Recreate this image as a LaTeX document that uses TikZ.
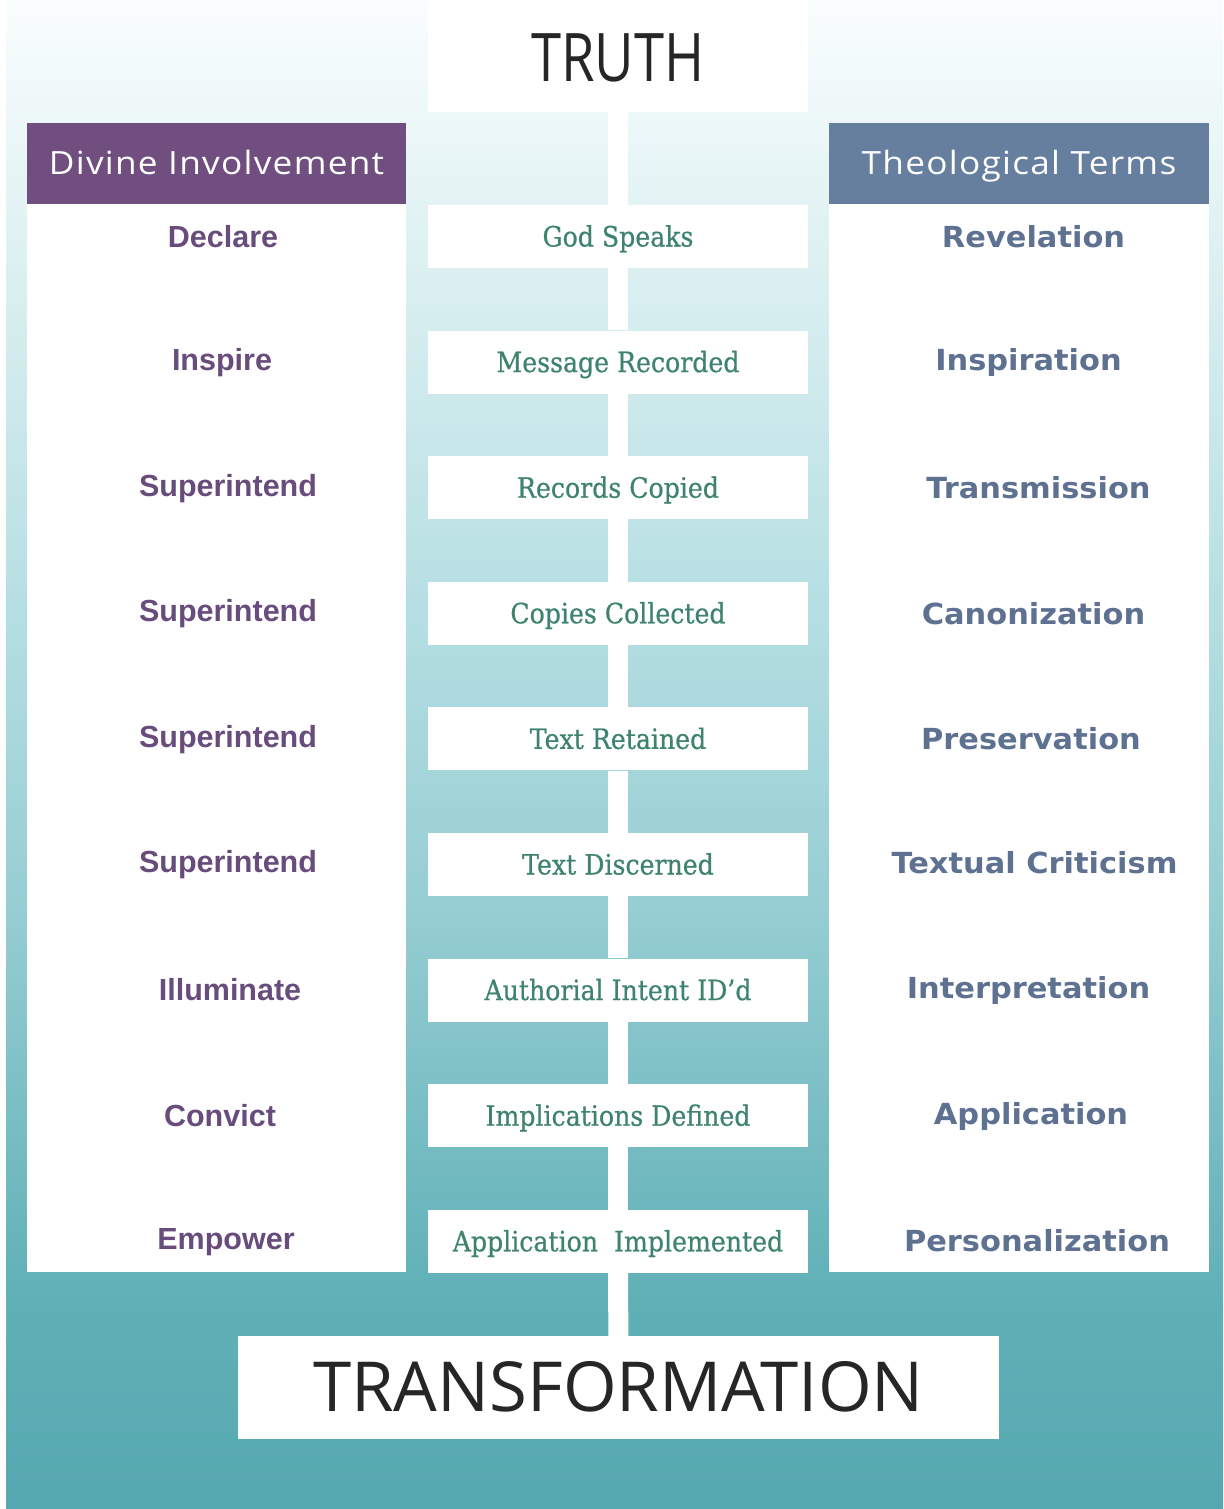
\documentclass[tikz,border=0pt]{standalone}
\usepackage{fontspec}
\setmainfont{Open Sans}
\newfontfamily\narrowfont[FakeStretch=0.81]{Open Sans}
\newfontfamily\headfont[FakeStretch=1.1,LetterSpace=4]{Open Sans}
\newfontfamily\leftfont{Liberation Sans}
\newfontfamily\rightfont[FakeStretch=1.05]{DejaVu Sans}
\newfontfamily\midfont[FakeStretch=0.90,FakeBold=0.6]{DejaVu Serif}
\usepackage{tikz}

\definecolor{bgA}{RGB}{86,168,176}
\definecolor{bgB}{RGB}{96,176,183}
\definecolor{bgC}{RGB}{150,206,211}
\definecolor{bgD}{RGB}{182,223,227}
\definecolor{bgE}{RGB}{216,238,240}
\definecolor{bgF}{RGB}{240,249,250}
\definecolor{bgG}{RGB}{250,253,253}
\definecolor{headpurple}{RGB}{112,79,128}
\definecolor{headslate}{RGB}{103,127,159}
\definecolor{termpurple}{RGB}{104,76,124}
\definecolor{termslate}{RGB}{94,113,145}
\definecolor{stepgreen}{RGB}{62,131,112}
\definecolor{bigtext}{RGB}{38,38,38}

\pgfdeclareverticalshading{bgshade}{100bp}{color(0bp)=(bgA); color(25bp)=(bgA); color(32bp)=(bgB); color(45bp)=(bgC); color(55bp)=(bgD); color(65bp)=(bgE); color(72bp)=(bgF); color(75bp)=(bgG); color(100bp)=(bgG)}

\begin{document}
\begin{tikzpicture}[x=1pt,y=-1pt,
	colbox/.style={fill=white, minimum width=379pt, minimum height=1068pt, inner sep=0pt},
	headbox/.style={minimum width=379pt, minimum height=81pt, inner sep=0pt, text=white, text height=22pt, text depth=0pt, font=\headfont\fontsize{32}{34}\selectfont},
	midbox/.style={fill=white, minimum width=380pt, minimum height=63pt, inner sep=0pt, text=stepgreen, text height=20pt, text depth=0pt, font=\midfont\fontsize{28}{30}\selectfont},
	leftterm/.style={inner sep=0pt, text=termpurple, text height=21pt, text depth=0pt, font=\leftfont\bfseries\fontsize{30.5}{32}\selectfont},
	rightterm/.style={inner sep=0pt, text=termslate, text height=21pt, text depth=0pt, font=\rightfont\bfseries\fontsize{29}{31}\selectfont},
	bigbox/.style={fill=white, inner sep=0pt, text=bigtext, text height=48pt, text depth=0pt},
	stripe/.style={draw=white, line width=20pt}]
			\useasboundingbox (0,0) rectangle (1223,1509);
			\shade[shading=bgshade] (6,0) rectangle (1223,1509);
			% columns and headers
			\node[colbox] (lcol) at (216.5,738) {};
			\node[colbox, minimum width=380pt] (rcol) at (1019,738) {};
			\node[headbox, fill=headpurple] (lhead) at (216.5,163.5) {Divine Involvement};
			\node[headbox, fill=headslate, minimum width=380pt] (rhead) at (1019,163.5) {Theological Terms};
			% top and bottom
			\node[bigbox, minimum width=380pt, minimum height=112pt, font=\narrowfont\fontsize{67}{70}\selectfont] (truth) at (618,56) {\raisebox{-2pt}{TRUTH}};
			\node[bigbox, minimum width=761pt, minimum height=103pt, font=\fontsize{69}{72}\selectfont] (transf) at (618.5,1387.5) {TRANSFORMATION};
			% middle steps
			\node[midbox] (g1) at (618,236.5) {God Speaks};
			\node[midbox] (g2) at (618,362.1) {Message Recorded};
			\node[midbox] (g3) at (618,487.7) {Records Copied};
			\node[midbox] (g4) at (618,613.3) {Copies Collected};
			\node[midbox] (g5) at (618,738.9) {Text Retained};
			\node[midbox] (g6) at (618,864.5) {Text Discerned};
			\node[midbox] (g7) at (618,990.1) {Authorial Intent ID’d};
			\node[midbox] (g8) at (618,1115.7) {Implications Defined};
			\node[midbox] (g9) at (618,1241.3) {Application\ \ Implemented};
			% left terms
			\node[leftterm] (l1) at (223,236.5) {Declare};
			\node[leftterm] (l2) at (222,360) {Inspire};
			\node[leftterm] (l3) at (228,486) {Superintend};
			\node[leftterm] (l4) at (228,611) {Superintend};
			\node[leftterm] (l5) at (228,737) {Superintend};
			\node[leftterm] (l6) at (228,862) {Superintend};
			\node[leftterm] (l7) at (230,990) {Illuminate};
			\node[leftterm] (l8) at (220,1116) {Convict};
			\node[leftterm] (l9) at (226,1239) {Empower};
			% right terms
			\node[rightterm] (r1) at (1033.5,237) {Revelation};
			\node[rightterm] (r2) at (1028.5,360) {Inspiration};
			\node[rightterm] (r3) at (1038.5,488) {Transmission};
			\node[rightterm] (r4) at (1033.5,614) {Canonization};
			\node[rightterm] (r5) at (1031,739) {Preservation};
			\node[rightterm] (r6) at (1034.5,863) {Textual Criticism};
			\node[rightterm] (r7) at (1028.5,988) {Interpretation};
			\node[rightterm] (r8) at (1031,1114) {Application};
			\node[rightterm] (r9) at (1037,1241) {Personalization};
			% white spine
			\foreach \a/\b in {truth/g1,g1/g2,g2/g3,g3/g4,g4/g5,g5/g6,g6/g7,g7/g8,g8/g9,g9/transf}
				\draw[stripe] (\a) -- (\b);
		\end{tikzpicture}
\end{document}
